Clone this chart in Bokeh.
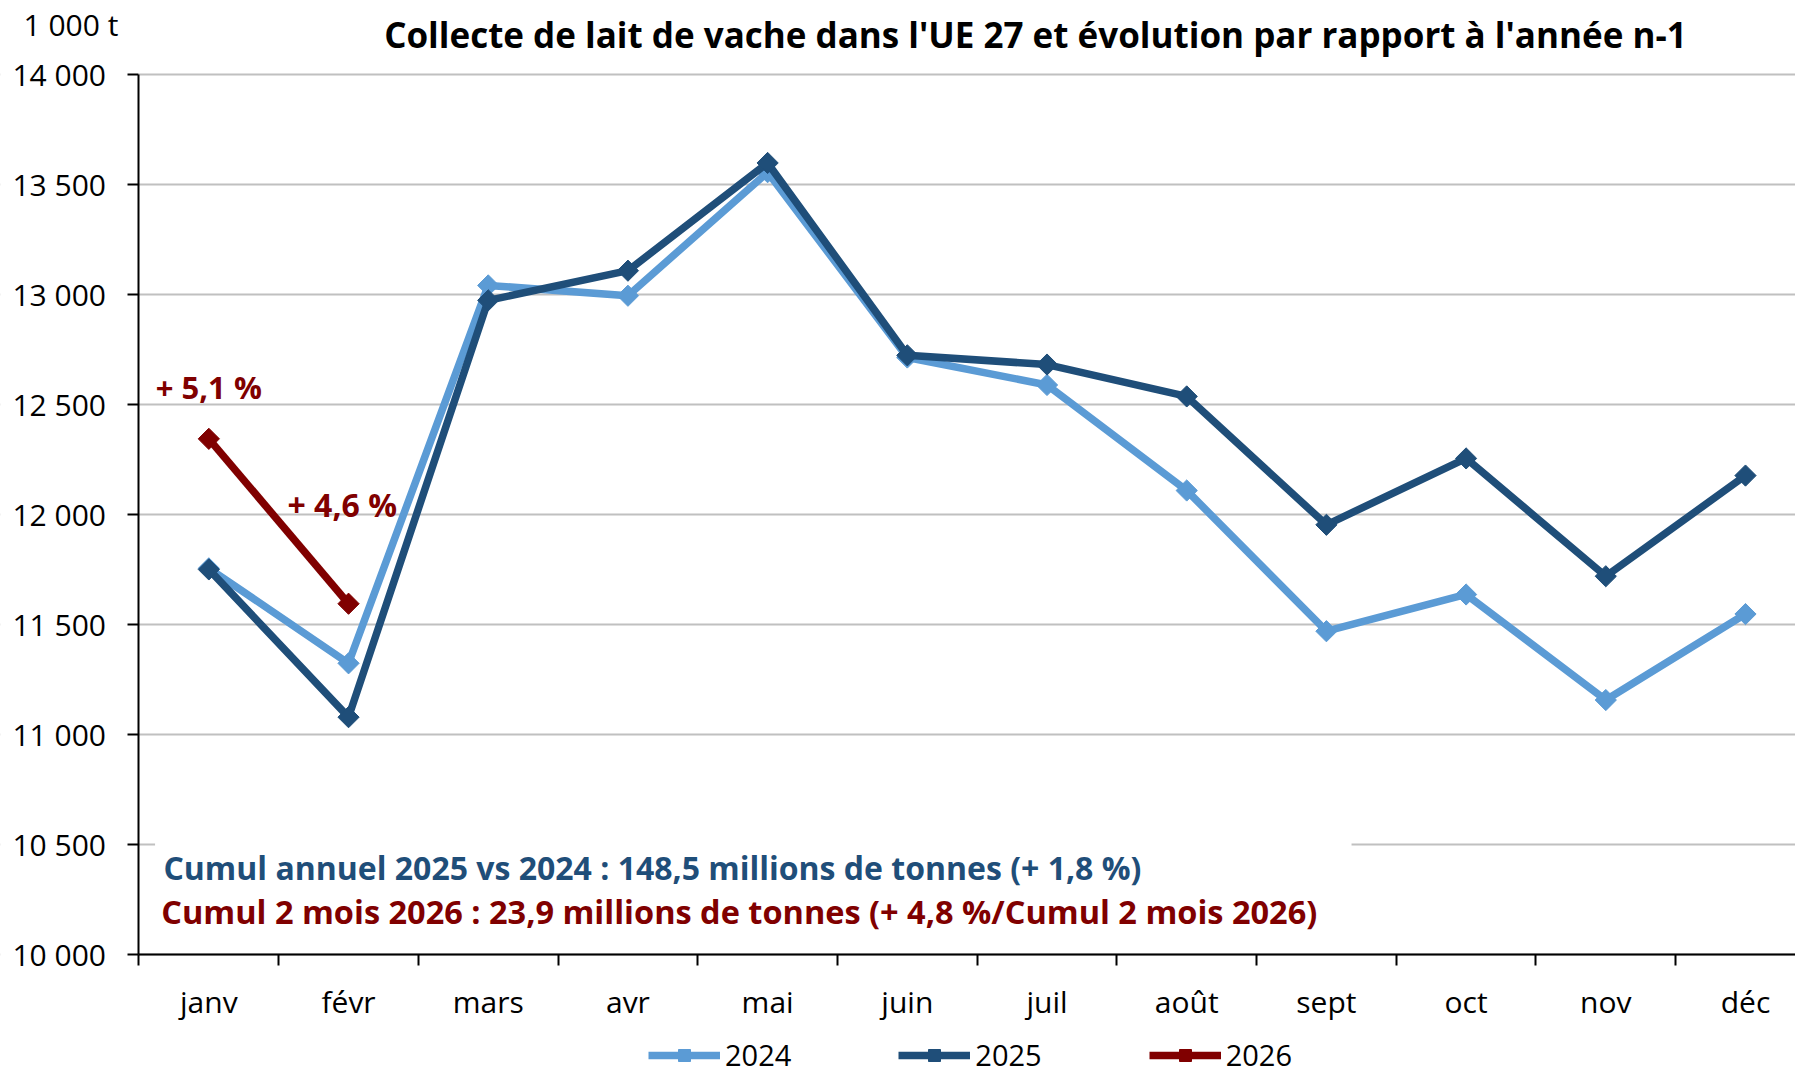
import math
from bokeh.plotting import figure
from bokeh.models import FixedTicker, Label, Legend, LegendItem, Range1d
from bokeh.embed import file_html
from bokeh.resources import INLINE

# ---- data ----
months = ["janv", "févr", "mars", "avr", "mai", "juin", "juil", "août", "sept", "oct", "nov", "déc"]
s2024 = [11755, 11323, 13042, 12995, 13557, 12714, 12589, 12109, 11469, 11636, 11156, 11547]
s2025 = [11750, 11078, 12974, 13109, 13599, 12724, 12682, 12537, 11953, 12255, 11719, 12177]
s2026 = [12344, 11594]
y_ticks = [10000, 10500, 11000, 11500, 12000, 12500, 13000, 13500, 14000]
y_tick_labels = ["10 000", "10 500", "11 000", "11 500", "12 000", "12 500", "13 000", "13 500", "14 000"]
pct_labels = ["+ 5,1 %", "+ 4,6 %"]
title_text = "Collecte de lait de vache dans l'UE 27 et évolution par rapport à l'année n-1"
unit_text = "1 000 t"
note1 = "Cumul annuel 2025 vs 2024 : 148,5 millions de tonnes (+ 1,8 %)"
note2 = "Cumul 2 mois 2026 : 23,9 millions de tonnes (+ 4,8 %/Cumul 2 mois 2026)"

C24 = "#5B9BD5"
C25 = "#1F4E79"
C26 = "#800000"
FONT = "Open Sans"

x = list(range(len(months)))
X0, X1 = -1.4914, 11.358
Y0, Y1 = 9448, 14338

p = figure(width=1795, height=1075, output_backend="svg", toolbar_location=None,
           x_range=Range1d(X0, X1), y_range=Range1d(Y0, Y1),
           min_border=0, min_border_left=0, min_border_right=0,
           min_border_top=0, min_border_bottom=0)
p.title.visible = False
p.outline_line_color = None
p.background_fill_color = "white"
p.border_fill_color = "white"

# grid
p.xgrid.grid_line_color = None
p.ygrid.grid_line_color = "#C0C0C0"
p.ygrid.grid_line_width = 2
p.ygrid.ticker = FixedTicker(ticks=y_ticks)

# mask left of the value axis (keeps grid lines inside the plot area)
p.quad(left=[X0], right=[-0.5], bottom=[Y0], top=[Y1],
       fill_color="white", line_color=None)

# y axis
ya = p.yaxis[0]
ya.fixed_location = -0.5
ya.bounds = (y_ticks[0], y_ticks[-1])
ya.ticker = FixedTicker(ticks=y_ticks)
ya.major_label_overrides = {t: l for t, l in zip(y_ticks, y_tick_labels)}
ya.axis_line_color = "black"
ya.axis_line_width = 2
ya.major_tick_line_color = "black"
ya.major_tick_line_width = 2
ya.major_tick_out = 11
ya.major_tick_in = 0
ya.minor_tick_line_color = None
ya.major_label_standoff = 22
ya.major_label_text_font = FONT
ya.major_label_text_font_size = "30px"
ya.major_label_text_color = "black"

# x axis
xa = p.xaxis[0]
xa.fixed_location = y_ticks[0]
xa.bounds = (-0.5, X1)
xa.ticker = FixedTicker(ticks=x, minor_ticks=[i - 0.5 for i in range(13)])
xa.major_label_overrides = {i: m for i, m in zip(x, months)}
xa.axis_line_color = "black"
xa.axis_line_width = 2
xa.major_tick_out = 0
xa.major_tick_in = 0
xa.major_tick_line_color = None
xa.minor_tick_line_color = "black"
xa.minor_tick_line_width = 2
xa.minor_tick_out = 11
xa.minor_tick_in = 0
xa.major_label_standoff = 16
xa.major_label_text_font = FONT
xa.major_label_text_font_size = "30px"
xa.major_label_text_color = "black"

# white box behind notes (hides the grid line)
p.quad(left=[-0.385], right=[8.18], bottom=[10030], top=[10565],
       fill_color="white", line_color=None)

# series
LW = 7.5
l24 = p.line(x, s2024, line_color=C24, line_width=LW, line_join="round")
m24 = p.scatter(x, s2024, marker="square", angle=math.pi / 4, size=15,
                fill_color=C24, line_color=C24)
l25 = p.line(x, s2025, line_color=C25, line_width=LW, line_join="round")
m25 = p.scatter(x, s2025, marker="square", angle=math.pi / 4, size=15,
                fill_color=C25, line_color=C25)
x26 = x[:len(s2026)]
l26 = p.line(x26, s2026, line_color=C26, line_width=LW, line_join="round")
m26 = p.scatter(x26, s2026, marker="square", angle=math.pi / 4, size=15,
                fill_color=C26, line_color=C26)

# texts
p.add_layout(Label(x=5.917, y=14184, text=title_text, text_align="center",
                   text_baseline="middle", text_font=FONT, text_font_style="bold",
                   text_font_size="35px", text_color="black"))
p.add_layout(Label(x=-1.327, y=14227, text=unit_text, text_align="left",
                   text_baseline="middle", text_font=FONT,
                   text_font_size="30px", text_color="black"))
p.add_layout(Label(x=-0.38, y=12578, text=pct_labels[0], text_align="left",
                   text_baseline="middle", text_font=FONT, text_font_style="bold",
                   text_font_size="31px", text_color=C26))
p.add_layout(Label(x=0.563, y=12046, text=pct_labels[1], text_align="left",
                   text_baseline="middle", text_font=FONT, text_font_style="bold",
                   text_font_size="32px", text_color=C26))
p.add_layout(Label(x=-0.325, y=10392, text=note1, text_align="left",
                   text_baseline="middle", text_font=FONT, text_font_style="bold",
                   text_font_size="32px", text_color=C25))
p.add_layout(Label(x=-0.341, y=10196, text=note2, text_align="left",
                   text_baseline="middle", text_font=FONT, text_font_style="bold",
                   text_font_size="32.5px", text_color=C26))

legend = Legend(items=[LegendItem(label="2024", renderers=[l24, m24]),
                       LegendItem(label="2025", renderers=[l25, m25]),
                       LegendItem(label="2026", renderers=[l26, m26])],
                orientation="horizontal", location=(648, 1),
                glyph_width=72, glyph_height=30, label_standoff=5, spacing=107,
                padding=0, margin=0, border_line_color=None,
                background_fill_alpha=0,
                label_text_font=FONT, label_text_font_size="29px",
                label_text_color="black")
p.add_layout(legend)

open("out.html", "w").write(file_html(p, INLINE))
